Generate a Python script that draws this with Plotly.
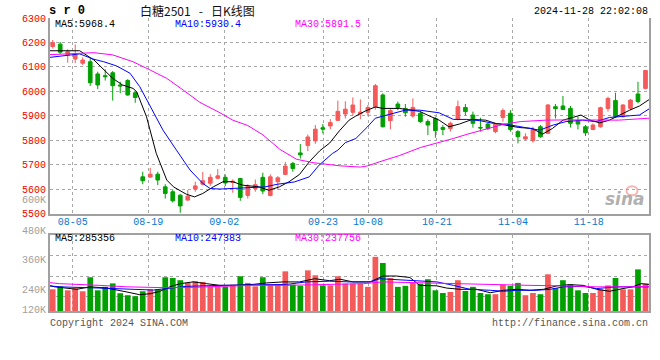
import plotly.graph_objects as go

# ---------------- data ----------------
opens = [6183, 6193, 6149, 6132, 6115, 6121, 6071, 6064, 6076, 6026,
         6044, 5994, 5650, 5649, 5661, 5609, 5589, 5575, 5555, 5600,
         5620, 5624, 5644, 5648, 5627, 5643, 5574, 5602, 5648, 5574,
         5630, 5660, 5705, 5748, 5778, 5797, 5851, 5858, 5881, 5907,
         5914, 5908, 5914, 5937, 5985, 5880, 5948, 5930, 5899, 5910,
         5876, 5889, 5852, 5848, 5885, 5934, 5903, 5852, 5866, 5835,
         5893, 5910, 5835, 5805, 5798, 5855, 5828, 5937, 5940, 5930,
         5880, 5855, 5844, 5855, 5930, 5962, 5896, 5930, 5989, 6012]
highs = [6210, 6202, 6172, 6192, 6139, 6135, 6080, 6090, 6083, 6039,
         6050, 5998, 5671, 5687, 5671, 5620, 5596, 5579, 5596, 5630,
         5670, 5661, 5682, 5660, 5640, 5646, 5620, 5639, 5667, 5660,
         5653, 5711, 5711, 5784, 5823, 5862, 5866, 5886, 5962, 5959,
         5975, 5967, 5944, 6030, 5992, 5930, 5958, 5948, 5971, 5917,
         5885, 5896, 5862, 5876, 5962, 5948, 5917, 5892, 5871, 5871,
         5930, 5923, 5841, 5828, 5855, 5862, 5948, 5948, 5981, 5940,
         5896, 5862, 5869, 5937, 5978, 5994, 5948, 5968, 6039, 6087]
lows = [6175, 6153, 6117, 6115, 6108, 6022, 6009, 6044, 5962, 5992,
        5982, 5953, 5620, 5646, 5616, 5561, 5545, 5503, 5552, 5589,
        5615, 5613, 5640, 5612, 5585, 5552, 5561, 5589, 5579, 5570,
        5597, 5657, 5671, 5725, 5755, 5785, 5828, 5845, 5878, 5889,
        5900, 5886, 5898, 5925, 5852, 5844, 5923, 5896, 5892, 5871,
        5821, 5810, 5821, 5835, 5882, 5901, 5851, 5835, 5841, 5828,
        5876, 5835, 5787, 5800, 5790, 5810, 5825, 5889, 5923, 5852,
        5844, 5817, 5841, 5851, 5917, 5893, 5893, 5923, 5951, 6008]
closes = [6199, 6160, 6162, 6149, 6128, 6035, 6026, 6060, 6023, 6022,
          5985, 5975, 5634, 5661, 5637, 5582, 5552, 5531, 5571, 5613,
          5634, 5648, 5654, 5625, 5632, 5566, 5611, 5618, 5592, 5650,
          5646, 5694, 5684, 5740, 5813, 5845, 5845, 5872, 5918, 5927,
          5944, 5915, 5934, 6023, 5855, 5921, 5934, 5912, 5934, 5876,
          5862, 5839, 5844, 5869, 5937, 5917, 5869, 5850, 5848, 5865,
          5921, 5844, 5814, 5814, 5844, 5814, 5944, 5929, 5926, 5869,
          5866, 5830, 5862, 5933, 5971, 5896, 5944, 5964, 5958, 6085]
volumes_k = [244, 256, 240, 249, 236, 293, 240, 254, 268, 228,
             220, 216, 236, 244, 244, 293, 290, 281, 271, 277,
             274, 255, 255, 255, 263, 297, 270, 256, 293, 263,
             263, 317, 263, 258, 321, 301, 260, 260, 297, 267,
             267, 267, 254, 376, 351, 290, 254, 258, 271, 267,
             285, 240, 229, 233, 281, 237, 254, 229, 224, 224,
             263, 258, 270, 220, 229, 224, 305, 249, 281, 264,
             240, 229, 229, 244, 260, 290, 244, 244, 325, 267]

# moving-average lines (position in candle index, value)
ma5_x = [-0.36, 3.6, 5.5, 8.0, 9.3, 10.7, 11.2, 12.5, 13.8, 15.2, 16.1, 17.8, 18.9, 20.0,
         21.4, 22.7, 24.0, 25.3, 27.5, 28.8, 30.2, 31.5, 32.9, 34.2, 35.6, 36.9, 38.2,
         39.5, 40.4, 41.7, 43.0, 44.0, 46.2, 48.0, 48.9, 50.2, 51.5, 52.8, 54.2, 55.9,
         57.7, 59.0, 60.8, 62.1, 63.9, 65.3, 66.6, 68.0, 69.3, 70.4, 71.6, 72.9, 74.2,
         75.5, 76.9, 78.2, 79.47]
ma5_y = [6166, 6166, 6128, 6053, 6026, 6012, 5998, 5896, 5746, 5637, 5609, 5579, 5568, 5582,
         5609, 5630, 5630, 5616, 5609, 5595, 5609, 5630, 5660, 5712, 5757, 5788, 5838,
         5882, 5899, 5920, 5936, 5930, 5930, 5923, 5918, 5899, 5882, 5855, 5866, 5885,
         5882, 5869, 5858, 5852, 5848, 5825, 5848, 5882, 5893, 5903, 5882, 5871, 5882,
         5903, 5923, 5940, 5966]
ma10_x = [-0.36, 3.6, 5.5, 6.8, 8.5, 10.3, 11.6, 13.0, 14.7, 16.5, 18.3, 20.0, 21.0, 22.3,
          24.0, 26.1, 28.3, 30.0, 32.2, 34.2, 35.5, 37.3, 38.0, 39.0, 40.4, 41.9, 43.0,
          44.8, 47.0, 48.9, 50.2, 51.5, 53.4, 55.2, 56.9, 58.7, 60.5, 62.3, 64.9, 66.7,
          68.4, 70.6, 72.4, 74.2, 76.4, 78.2, 79.47]
ma10_y = [6139, 6153, 6131, 6121, 6104, 6074, 6019, 5937, 5841, 5759, 5678, 5623, 5602, 5600,
          5602, 5606, 5609, 5620, 5629, 5650, 5698, 5746, 5759, 5790, 5807, 5853, 5890,
          5905, 5923, 5923, 5917, 5912, 5885, 5885, 5880, 5869, 5865, 5855, 5841, 5862,
          5876, 5882, 5876, 5893, 5899, 5903, 5928]
ma30_x = [-0.36, 5.5, 8.0, 10.7, 13.0, 15.2, 17.4, 19.6, 22.3, 24.0, 26.0, 28.0, 30.3, 32.5,
          34.7, 36.1, 38.3, 41.0, 42.0, 43.6, 46.2, 49.0, 51.2, 53.4, 55.2, 57.9, 60.1,
          62.3, 65.7, 68.8, 72.3, 75.4, 79.47]
ma30_y = [6150, 6158, 6149, 6121, 6087, 6053, 6005, 5955, 5912, 5882, 5860, 5822, 5762, 5722,
          5708, 5702, 5695, 5690, 5695, 5712, 5737, 5770, 5787, 5807, 5824, 5848, 5865,
          5876, 5882, 5883, 5882, 5882, 5890]

vma5_x = [-0.36, 0.3, 3.2, 5.0, 7.2, 8.5, 9.9, 11.6, 13.0, 14.3, 15.6, 17.0, 18.7, 20.5,
          22.3, 24.1, 26.7, 28.5, 30.7, 32.9, 34.9, 36.9, 38.3, 40.0, 42.3, 44.0, 45.8,
          47.6, 48.9, 51.2, 52.5, 54.3, 56.5, 58.3, 60.1, 61.8, 63.6, 65.4, 67.2, 68.9,
          70.7, 72.5, 74.2, 76.0, 77.3, 78.4, 79.47]
vma5_y = [258, 254, 244, 254, 249, 240, 233, 222, 226, 236, 254, 267, 274, 267,
          260, 260, 264, 270, 274, 274, 287, 279, 285, 274, 274, 298, 298,
          292, 260, 258, 249, 244, 244, 230, 240, 244, 240, 244, 258, 263,
          260, 244, 236, 247, 254, 267, 264]
vma10_x = [-0.36, 0.9, 6.3, 9.9, 13.4, 15.2, 17.8, 22.3, 26.7, 31.2, 33.8, 36.9, 39.6, 42.3,
           43.6, 45.8, 48.5, 51.2, 53.4, 55.6, 58.3, 60.1, 61.8, 64.5, 66.3, 68.1, 70.7,
           72.5, 75.1, 77.8, 79.47]
vma10_y = [258, 254, 249, 244, 241, 247, 256, 260, 263, 264, 274, 277, 274, 274,
           287, 283, 277, 274, 260, 244, 240, 236, 240, 240, 244, 254, 256,
           247, 254, 254, 254]
vma30_x = [-0.36, 0.9, 6.3, 9.9, 14.3, 17.8, 22.3, 26.7, 31.2, 36.9, 41.4, 44.0, 47.6, 50.3,
           54.7, 59.2, 63.6, 68.1, 72.5, 76.9, 79.47]
vma30_y = [271, 267, 260, 254, 251, 251, 256, 260, 260, 263, 267, 274, 271, 270,
           267, 264, 260, 258, 254, 254, 256]

date_ticks = [2.66, 12.73, 22.85, 36.03, 42.02, 51.21, 61.33, 71.45]
date_labels = ["08-05", "08-19", "09-02", "09-23", "10-08", "10-21", "11-04", "11-18"]
price_ticks = [5500, 5600, 5700, 5800, 5900, 6000, 6100, 6200, 6300]
vol_grid = [214.4, 297.0, 379.6]
vol_labels = ["480K", "360K", "240K", "120K"]
vol_label_y = [231, 260.7, 290, 310]

# ---------------- style ----------------
RED = "#f55a5a"
GREEN = "#00a000"
BLUE = "#0000ff"
MAG = "#ff00ff"
GRID = "#a8a8a8"
AXL = "#a0a0a0"
MONO = "Liberation Mono, DejaVu Sans Mono, monospace"

W, H = 660, 360
L, R_EDGE, T, B_EDGE = 50, 649.5, 18, 310.7
main_bottom_px = 213.3
vol_top_px = 234.3
ph = B_EDGE - T

def ax(px):
    return (px - L) / (R_EDGE - L)

def ay(py):
    return (B_EDGE - py) / ph

idx = list(range(len(opens)))
vol_colors = [RED if c >= o else GREEN for o, c in zip(opens, closes)]
xr = [(L - 52.7) / 7.51, (R_EDGE - 52.7) / 7.51]

fig = go.Figure()
fig.add_trace(go.Candlestick(
    x=idx, open=opens, high=highs, low=lows, close=closes,
    increasing=dict(line=dict(color=RED, width=1), fillcolor=RED),
    decreasing=dict(line=dict(color=GREEN, width=1), fillcolor=GREEN),
    whiskerwidth=0, xaxis="x", yaxis="y", showlegend=False, hoverinfo="skip"))
for xs, ys, col in [(ma5_x, ma5_y, "#000000"), (ma10_x, ma10_y, BLUE), (ma30_x, ma30_y, MAG)]:
    fig.add_trace(go.Scatter(x=xs, y=ys, mode="lines", line=dict(color=col, width=1),
                             xaxis="x", yaxis="y", showlegend=False, hoverinfo="skip"))

fig.add_trace(go.Bar(x=idx, y=volumes_k, marker=dict(color=vol_colors, line=dict(width=0)),
                     width=0.76, xaxis="x2", yaxis="y2", showlegend=False, hoverinfo="skip"))
for xs, ys, col in [(vma5_x, vma5_y, "#000000"), (vma10_x, vma10_y, BLUE), (vma30_x, vma30_y, MAG)]:
    fig.add_trace(go.Scatter(x=xs, y=ys, mode="lines", line=dict(color=col, width=1),
                             xaxis="x2", yaxis="y2", showlegend=False, hoverinfo="skip"))

main_dom = [ay(main_bottom_px), 1]
vol_dom = [0, ay(vol_top_px)]

common = dict(automargin=False, zeroline=False, fixedrange=True, ticks="",
              showgrid=True, gridcolor=GRID, griddash="dot", gridwidth=1,
              showline=True, linecolor=AXL, linewidth=2)

fig.update_layout(
    template="none",
    width=W, height=H,
    margin=dict(l=L, r=W - R_EDGE, t=T, b=H - B_EDGE, pad=0, autoexpand=False),
    paper_bgcolor="white", plot_bgcolor="white",
    boxgap=0.3,
    xaxis=dict(domain=[0, 1], anchor="y", range=xr, tickmode="array", tickvals=date_ticks,
               ticktext=date_labels, tickfont=dict(family=MONO, size=10, color="#0a78cc"),
               ticklabelstandoff=-3, rangeslider=dict(visible=False), **common),
    yaxis=dict(domain=main_dom, anchor="x", range=[5500, 6300], tickmode="array",
               tickvals=price_ticks, ticktext=[str(v) for v in price_ticks],
               tickfont=dict(family=MONO, size=10, color="#f00000"), mirror=True, **common),
    xaxis2=dict(domain=[0, 1], anchor="y2", range=xr, tickmode="array", tickvals=date_ticks,
                showticklabels=False, mirror=True, **common),
    yaxis2=dict(domain=vol_dom, anchor="x2", range=[155.8, 466.7], tickmode="array",
                tickvals=vol_grid, showticklabels=False, mirror=True, **common),
    bargap=0.2,
)

ann = []
def text(t, px, py, anchor="left", color="#000", size=10, family=MONO, bold=False, italic=False):
    if bold:
        t = "<b>" + t + "</b>"
    if italic:
        t = "<i>" + t + "</i>"
    ann.append(dict(text=t, x=ax(px), y=ay(py), xref="paper", yref="paper", xanchor=anchor,
                    yanchor="middle", showarrow=False, borderpad=0,
                    font=dict(family=family, size=size, color=color)))

NB = "\u00a0"
text("s r 0", 48, 11.5, size=12, bold=True)
text("白糖2501" + NB * 3 + "-" + NB * 3 + "日K线图", 139, 11, size=12,
     family="Noto Sans CJK SC", color="#111")
text("2024-11-28 22:02:08", 650, 11.5, anchor="right", size=10)
text("MA5:5968.4", 54, 24.5, color="#000")
text("MA10:5930.4", 174, 24.5, color=BLUE)
text("MA30:5891.5", 294, 24.5, color=MAG)
text("MA5:285356", 54, 238.5, color="#000")
text("MA10:247383", 174, 238.5, color=BLUE)
text("MA30:237756", 294, 238.5, color=MAG)
text("600K", 47, 200.7, anchor="right", color="#a0a0a0")
for lab, yy in zip(vol_labels, vol_label_y):
    text(lab, 47, yy, anchor="right", color="#a0a0a0")
text("Copyright 2024 SINA.COM", 49, 323.5, color="#555")
text("http://finance.sina.com.cn", 650, 323.5, anchor="right", color="#555")
text("sina", 625, 199, anchor="center", size=17, family="DejaVu Sans", color="rgba(150,150,150,0.75)",
     bold=True, italic=True)
fig.update_layout(annotations=ann)
fig.add_shape(type="circle", xref="paper", yref="paper", x0=ax(627), x1=ax(638),
              y0=ay(195), y1=ay(186), line=dict(color="rgba(235,120,120,0.55)", width=2))

fig.write_html("out.html", config={"displayModeBar": False, "staticPlot": True})

# remove the default page margin so the figure sits at the window's top-left corner
with open("out.html", "r", encoding="utf-8") as f:
    page = f.read()
page = page.replace("<body>", '<body style="margin:0;padding:0;">', 1)
with open("out.html", "w", encoding="utf-8") as f:
    f.write(page)
